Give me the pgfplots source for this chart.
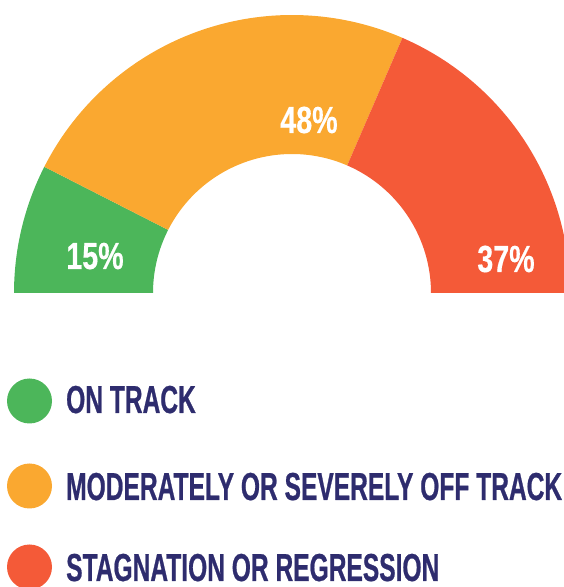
\documentclass[border=0pt]{standalone}
\usepackage{fontspec}
\usepackage{pgfplots}
\pgfplotsset{compat=1.18}
\usepackage{pgfplotstable}
\usepgfplotslibrary{fillbetween}
\newfontfamily\legfont{Liberation Sans}[FakeStretch=0.63,FakeBold=0.6]
\newfontfamily\labfont{Liberation Sans}[FakeStretch=0.76,FakeBold=0.4]
\definecolor{ontrack}{RGB}{76,182,90}
\definecolor{offtrack}{RGB}{250,168,48}
\definecolor{regress}{RGB}{244,90,56}
\definecolor{navy}{RGB}{46,44,110}
\pgfplotstableread{
cat share
ontrack 15
offtrack 48
regress 37
}\shares
\begin{document}
\begin{tikzpicture}[x=1pt,y=1pt]
\pgfplotstablegetelem{0}{share}\of\shares \let\sA\pgfplotsretval
\pgfplotstablegetelem{1}{share}\of\shares \let\sB\pgfplotsretval
\pgfplotstablegetelem{2}{share}\of\shares \let\sC\pgfplotsretval
\pgfmathsetmacro\aA{180-1.8*\sA}
\pgfmathsetmacro\aB{\aA-1.8*\sB}
\pgfmathsetmacro\aC{\aB-1.8*\sC}
\def\cx{292}\def\cy{294}\def\Ro{278}\def\Ri{139}
\begin{axis}[at={(0,0)},anchor=south west,width=600pt,height=587pt,
  scale only axis,hide axis,xmin=0,xmax=600,ymin=0,ymax=587]
\addplot[draw=none,name path=o1,domain=\aA:180,samples=80] ({\cx+\Ro*cos(x)},{\cy+\Ro*sin(x)});
\addplot[draw=none,name path=i1,domain=\aA:180,samples=80] ({\cx+\Ri*cos(x)},{\cy+\Ri*sin(x)});
\addplot[fill=ontrack,draw=none] fill between[of=o1 and i1];
\addplot[draw=none,name path=o2,domain=\aB:\aA,samples=120] ({\cx+\Ro*cos(x)},{\cy+\Ro*sin(x)});
\addplot[draw=none,name path=i2,domain=\aB:\aA,samples=120] ({\cx+\Ri*cos(x)},{\cy+\Ri*sin(x)});
\addplot[fill=offtrack,draw=none] fill between[of=o2 and i2];
\addplot[draw=none,name path=o3,domain=\aC:\aB,samples=100] ({\cx+\Ro*cos(x)},{\cy+\Ro*sin(x)});
\addplot[draw=none,name path=i3,domain=\aC:\aB,samples=100] ({\cx+\Ri*cos(x)},{\cy+\Ri*sin(x)});
\addplot[fill=regress,draw=none] fill between[of=o3 and i3];
\end{axis}
\tikzset{lab/.style={anchor=base,inner sep=0pt,text=white,font=\labfont\bfseries\fontsize{37.7}{40}\selectfont},
 leg/.style={anchor=base west,inner sep=0pt,text=navy,font=\legfont\bfseries\fontsize{39}{42}\selectfont}}
\node[lab] at (95,318) {\sA\%};
\node[lab] at (309,454) {\sB\%};
\node[lab] at (506,315) {\sC\%};
\fill[ontrack] (29.5,186) circle[radius=22.5pt];
\fill[offtrack] (29.5,101) circle[radius=22.5pt];
\fill[regress] (29.5,20) circle[radius=22.5pt];
\node[leg] at (66,174) {ON TRACK};
\node[leg] at (66,87) {MODERATELY OR SEVERELY OFF TRACK};
\node[leg] at (66,6) {STAGNATION OR REGRESSION};
\pgfresetboundingbox
\useasboundingbox (0,0) rectangle (563,587);
\end{tikzpicture}
\end{document}
